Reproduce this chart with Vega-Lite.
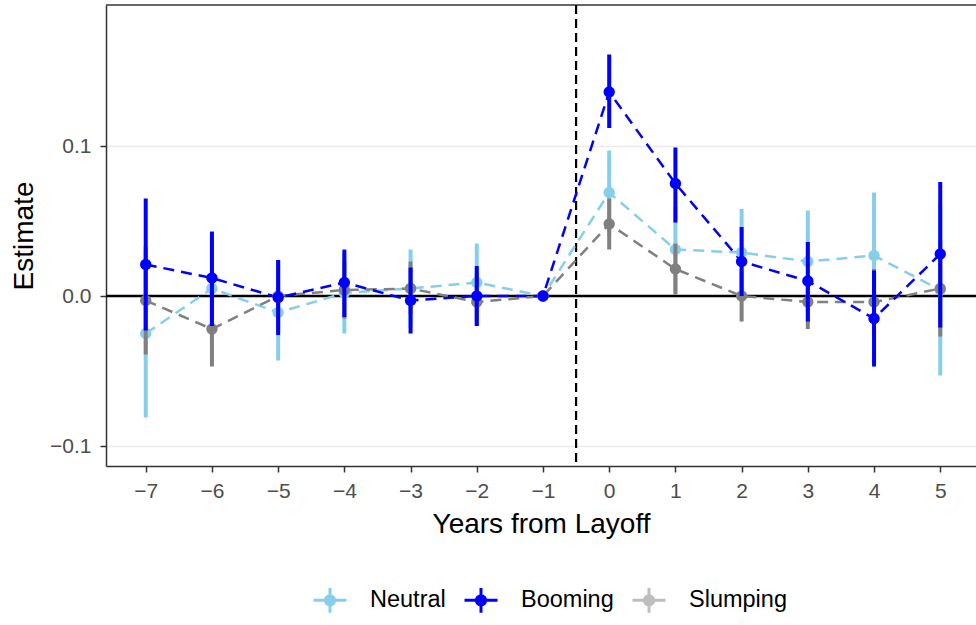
{
  "$schema": "https://vega.github.io/schema/vega-lite/v6.json",
  "autosize": "none",
  "width": 870,
  "height": 461,
  "padding": {"left": 106, "top": 5, "right": 0, "bottom": 159},
  "background": "white",
  "datasets": {
    "est": [
      {"year": -7, "group": "Neutral", "est": -0.025, "lo": -0.081, "hi": 0.030},
      {"year": -6, "group": "Neutral", "est": 0.005, "lo": -0.030, "hi": 0.040},
      {"year": -5, "group": "Neutral", "est": -0.011, "lo": -0.043, "hi": 0.021},
      {"year": -4, "group": "Neutral", "est": 0.002, "lo": -0.025, "hi": 0.028},
      {"year": -3, "group": "Neutral", "est": 0.005, "lo": -0.021, "hi": 0.031},
      {"year": -2, "group": "Neutral", "est": 0.009, "lo": -0.017, "hi": 0.035},
      {"year": -1, "group": "Neutral", "est": 0.0, "lo": 0.0, "hi": 0.0},
      {"year": 0, "group": "Neutral", "est": 0.069, "lo": 0.041, "hi": 0.097},
      {"year": 1, "group": "Neutral", "est": 0.031, "lo": 0.003, "hi": 0.060},
      {"year": 2, "group": "Neutral", "est": 0.029, "lo": 0.000, "hi": 0.058},
      {"year": 3, "group": "Neutral", "est": 0.023, "lo": -0.011, "hi": 0.057},
      {"year": 4, "group": "Neutral", "est": 0.027, "lo": -0.015, "hi": 0.069},
      {"year": 5, "group": "Neutral", "est": 0.004, "lo": -0.053, "hi": 0.061},
      {"year": -7, "group": "Slumping", "est": -0.003, "lo": -0.039, "hi": 0.033},
      {"year": -6, "group": "Slumping", "est": -0.022, "lo": -0.047, "hi": 0.003},
      {"year": -5, "group": "Slumping", "est": 0.000, "lo": -0.024, "hi": 0.024},
      {"year": -4, "group": "Slumping", "est": 0.004, "lo": -0.015, "hi": 0.023},
      {"year": -3, "group": "Slumping", "est": 0.005, "lo": -0.012, "hi": 0.023},
      {"year": -2, "group": "Slumping", "est": -0.004, "lo": -0.020, "hi": 0.015},
      {"year": -1, "group": "Slumping", "est": 0.0, "lo": 0.0, "hi": 0.0},
      {"year": 0, "group": "Slumping", "est": 0.048, "lo": 0.031, "hi": 0.065},
      {"year": 1, "group": "Slumping", "est": 0.018, "lo": 0.001, "hi": 0.035},
      {"year": 2, "group": "Slumping", "est": 0.000, "lo": -0.017, "hi": 0.017},
      {"year": 3, "group": "Slumping", "est": -0.004, "lo": -0.022, "hi": 0.014},
      {"year": 4, "group": "Slumping", "est": -0.004, "lo": -0.026, "hi": 0.018},
      {"year": 5, "group": "Slumping", "est": 0.005, "lo": -0.027, "hi": 0.037},
      {"year": -7, "group": "Booming", "est": 0.021, "lo": -0.023, "hi": 0.065},
      {"year": -6, "group": "Booming", "est": 0.012, "lo": -0.020, "hi": 0.043},
      {"year": -5, "group": "Booming", "est": -0.001, "lo": -0.026, "hi": 0.024},
      {"year": -4, "group": "Booming", "est": 0.009, "lo": -0.014, "hi": 0.031},
      {"year": -3, "group": "Booming", "est": -0.003, "lo": -0.025, "hi": 0.019},
      {"year": -2, "group": "Booming", "est": 0.000, "lo": -0.020, "hi": 0.020},
      {"year": -1, "group": "Booming", "est": 0.0, "lo": 0.0, "hi": 0.0},
      {"year": 0, "group": "Booming", "est": 0.136, "lo": 0.112, "hi": 0.161},
      {"year": 1, "group": "Booming", "est": 0.075, "lo": 0.049, "hi": 0.099},
      {"year": 2, "group": "Booming", "est": 0.023, "lo": 0.000, "hi": 0.046},
      {"year": 3, "group": "Booming", "est": 0.010, "lo": -0.017, "hi": 0.036},
      {"year": 4, "group": "Booming", "est": -0.015, "lo": -0.047, "hi": 0.017},
      {"year": 5, "group": "Booming", "est": 0.028, "lo": -0.021, "hi": 0.076}
    ],
    "hline": [{"y": 0}],
    "topline": [{"y": 0.194}],
    "vline": [{"x": -0.5}]
  },
  "layer": [
    {
      "data": {"name": "est"},
      "transform": [{"filter": "false"}],
      "mark": {"type": "point", "filled": true, "size": 130},
      "encoding": {
        "x": {
          "field": "year", "type": "quantitative",
          "scale": {"domain": [-7.6, 5.54], "nice": false, "zero": false},
          "axis": {
            "title": "Years from Layoff",
            "values": [-7, -6, -5, -4, -3, -2, -1, 0, 1, 2, 3, 4, 5],
            "format": "d",
            "grid": false,
            "labelPadding": 8,
            "titleBaseline": "alphabetic",
            "titleY": 66,
            "labelFlush": false
          }
        },
        "y": {
          "field": "est", "type": "quantitative",
          "scale": {"domain": [-0.1133, 0.194], "nice": false, "zero": false},
          "axis": {
            "title": "Estimate",
            "values": [-0.1, 0, 0.1],
            "format": ".1f",
            "grid": true,
            "gridColor": "#EBEBEB",
            "gridWidth": 1.5,
            "labelPadding": 9,
            "titleAngle": -90,
            "titleBaseline": "alphabetic",
            "titleX": -74,
            "titleAlign": "center",
            "labelFlush": false
          }
        },
        "color": {
          "field": "group", "type": "nominal",
          "scale": {"domain": ["Neutral", "Booming", "Slumping"], "range": ["#87CEEB", "#0000FF", "#BEBEBE"]},
          "legend": {
            "title": null,
            "orient": "none",
            "direction": "horizontal",
            "legendX": 206,
            "legendY": 577,
            "padding": 0,
            "symbolType": "M-1,0H1M0,-0.75V0.75M0.28,0A0.28,0.28,0,1,1,-0.28,0A0.28,0.28,0,1,1,0.28,0Z",
            "symbolSize": 1089,
            "symbolStrokeWidth": 3,
            "symbolOpacity": 1,
            "labelFont": "Liberation Sans",
            "labelFontSize": 23.5,
            "labelColor": "black",
            "labelOffset": 22,
            "columnPadding": 12,
            "encode": {
              "symbols": {
                "update": {
                  "fill": {"scale": "color", "field": "value"},
                  "stroke": {"scale": "color", "field": "value"},
                  "opacity": {"value": 1}
                }
              }
            }
          }
        }
      }
    },
    {
      "data": {"name": "hline"},
      "mark": {"type": "rule", "color": "black", "strokeWidth": 2.5},
      "encoding": {
        "y": {"field": "y", "type": "quantitative"}
      }
    },
    {
      "data": {"name": "topline"},
      "mark": {"type": "rule", "color": "#333333", "strokeWidth": 1.5},
      "encoding": {
        "y": {"field": "y", "type": "quantitative"}
      }
    },
    {
      "data": {"name": "vline"},
      "mark": {"type": "rule", "color": "black", "strokeWidth": 2.2, "strokeDash": [9, 5]},
      "encoding": {
        "x": {"field": "x", "type": "quantitative"}
      }
    },
    {
      "data": {"name": "est"},
      "transform": [{"filter": "datum.group === 'Neutral'"}],
      "mark": {"type": "line", "strokeWidth": 2.5, "strokeDash": [11, 7], "color": "#87CEEB"},
      "encoding": {
        "x": {"field": "year", "type": "quantitative"},
        "y": {"field": "est", "type": "quantitative"},
        "order": {"field": "year", "type": "quantitative"}
      }
    },
    {
      "data": {"name": "est"},
      "transform": [{"filter": "datum.group === 'Slumping'"}],
      "mark": {"type": "line", "strokeWidth": 2.5, "strokeDash": [11, 7], "color": "#808080"},
      "encoding": {
        "x": {"field": "year", "type": "quantitative"},
        "y": {"field": "est", "type": "quantitative"},
        "order": {"field": "year", "type": "quantitative"}
      }
    },
    {
      "data": {"name": "est"},
      "transform": [{"filter": "datum.group === 'Booming'"}],
      "mark": {"type": "line", "strokeWidth": 2.5, "strokeDash": [11, 7], "color": "#0000FF"},
      "encoding": {
        "x": {"field": "year", "type": "quantitative"},
        "y": {"field": "est", "type": "quantitative"},
        "order": {"field": "year", "type": "quantitative"}
      }
    },
    {
      "data": {"name": "est"},
      "transform": [{"filter": "datum.group === 'Neutral'"}],
      "layer": [
        {"mark": {"type": "rule", "color": "#87CEEB", "strokeWidth": 4}, "encoding": {"x": {"field": "year", "type": "quantitative"}, "y": {"field": "lo", "type": "quantitative"}, "y2": {"field": "hi"}}},
        {"mark": {"type": "point", "filled": true, "color": "#87CEEB", "size": 130, "opacity": 1}, "encoding": {"x": {"field": "year", "type": "quantitative"}, "y": {"field": "est", "type": "quantitative"}}}
      ]
    },
    {
      "data": {"name": "est"},
      "transform": [{"filter": "datum.group === 'Slumping'"}],
      "layer": [
        {"mark": {"type": "rule", "color": "#808080", "strokeWidth": 4}, "encoding": {"x": {"field": "year", "type": "quantitative"}, "y": {"field": "lo", "type": "quantitative"}, "y2": {"field": "hi"}}},
        {"mark": {"type": "point", "filled": true, "color": "#808080", "size": 130, "opacity": 1}, "encoding": {"x": {"field": "year", "type": "quantitative"}, "y": {"field": "est", "type": "quantitative"}}}
      ]
    },
    {
      "data": {"name": "est"},
      "transform": [{"filter": "datum.group === 'Booming'"}],
      "layer": [
        {"mark": {"type": "rule", "color": "#0000FF", "strokeWidth": 4}, "encoding": {"x": {"field": "year", "type": "quantitative"}, "y": {"field": "lo", "type": "quantitative"}, "y2": {"field": "hi"}}},
        {"mark": {"type": "point", "filled": true, "color": "#0000FF", "size": 130, "opacity": 1}, "encoding": {"x": {"field": "year", "type": "quantitative"}, "y": {"field": "est", "type": "quantitative"}}}
      ]
    }
  ],
  "config": {
    "view": {"stroke": null},
    "axis": {
      "labelFont": "Liberation Sans",
      "titleFont": "Liberation Sans",
      "labelFontSize": 21,
      "titleFontSize": 28,
      "labelColor": "#4D4D4D",
      "titleColor": "black",
      "titleFontWeight": "normal",
      "tickColor": "#333333",
      "tickSize": 6,
      "tickWidth": 1.5,
      "domain": true,
      "domainColor": "#333333",
      "domainWidth": 1.5
    }
  }
}
